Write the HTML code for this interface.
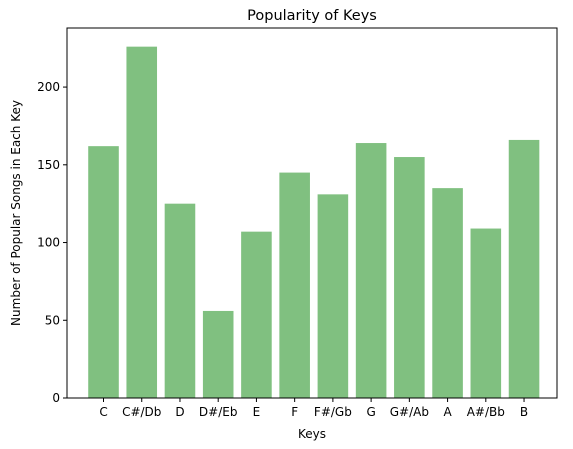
<!DOCTYPE html>
<html><head><meta charset="utf-8"><style>body{margin:0;background:#fff}svg{font-family:"DejaVu Sans","Liberation Sans",sans-serif}</style></head>
<body>
<svg id="chart" width="573" height="444">
<rect x="0" y="0" width="573" height="444" fill="#fff"/>
<g id="bars"></g>
<rect x="67" y="28" width="490" height="370" fill="none" stroke="#000" stroke-width="1"/>
<g id="yaxis"></g><g id="xaxis"></g>
<text x="312" y="20" text-anchor="middle" font-size="14.5">Popularity of Keys</text>
<text x="312" y="438" text-anchor="middle" font-size="12">Keys</text>
<text transform="translate(20,213) rotate(-90)" text-anchor="middle" font-size="12">Number of Popular Songs in Each Key</text>
</svg>
<script>
const categories=["C","C#/Db","D","D#/Eb","E","F","F#/Gb","G","G#/Ab","A","A#/Bb","B"];
const counts=[162,226,125,56,107,145,131,164,155,135,109,166];
const yTicks=[0,50,100,150,200];
const L=67,R=557,T=28,B=398,yMax=238;
const NS="http://www.w3.org/2000/svg";
const lo=-0.955, step=38.23;
const xs=v=>L+(v-lo)*step;
const ys=v=>B-v/yMax*(B-T);
function mk(t,a,p){const e=document.createElementNS(NS,t);for(const k in a)e.setAttribute(k,a[k]);p.appendChild(e);return e;}
const bars=document.getElementById('bars'),xa=document.getElementById('xaxis'),ya=document.getElementById('yaxis');
categories.forEach((c,i)=>{
 const x0=xs(i-0.4),x1=xs(i+0.4);
 const r=mk('rect',{x:x0,y:ys(counts[i]),width:x1-x0,height:B-ys(counts[i]),fill:'#80c080'},bars);
 
 
 mk('line',{x1:xs(i),x2:xs(i),y1:B,y2:B+4,stroke:'#000'},xa);
 const t=mk('text',{x:xs(i),y:B+18,'text-anchor':'middle','font-size':12},xa);
 t.textContent=c;
 
 
});
yTicks.forEach(v=>{
 mk('line',{x1:L-4,x2:L,y1:ys(v),y2:ys(v),stroke:'#000'},ya);
 const t=mk('text',{x:L-7,y:ys(v)+4,'text-anchor':'end','font-size':12},ya);
 t.textContent=v;
 
 
});
</script>
</body></html>
